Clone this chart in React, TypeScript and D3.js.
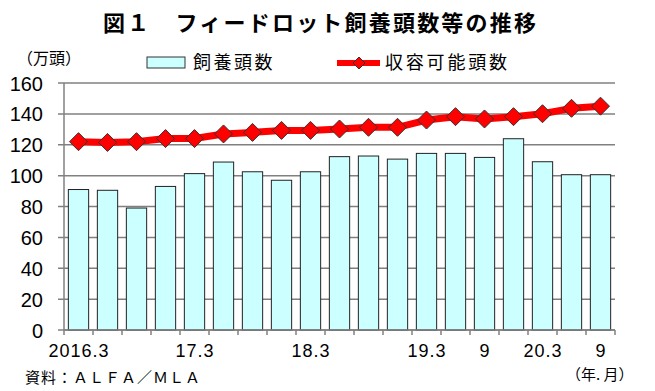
import React from 'react';
import * as d3 from 'd3';

// quarterly, 2016.3 .. 2020.9
const periods = [
  '2016.3', '2016.6', '2016.9', '2016.12',
  '2017.3', '2017.6', '2017.9', '2017.12',
  '2018.3', '2018.6', '2018.9', '2018.12',
  '2019.3', '2019.6', '2019.9', '2019.12',
  '2020.3', '2020.6', '2020.9',
];
const tickLabels: Record<string, string> = {
  '2016.3': '2016.3',
  '2017.3': '17.3',
  '2018.3': '18.3',
  '2019.3': '19.3',
  '2019.9': '9',
  '2020.3': '20.3',
  '2020.9': '9',
};
const headcount = [91, 90.5, 79, 93, 101.3, 108.8, 102.5, 97, 102.5, 112.3, 112.7, 110.7, 114.4, 114.4, 111.8, 123.9, 109, 100.6, 100.6];
const capacity = [122, 121.5, 122, 124, 124, 127, 128, 129.3, 129.3, 130.2, 131.3, 131.3, 136, 138.2, 136.7, 138.2, 140.1, 143.6, 145];
const yTicks = [0, 20, 40, 60, 80, 100, 120, 140, 160];

const W = 655;
const H = 391;
const left = 64;
const right = 615;
const top = 83;
const bottom = 330;

const jp = '"Noto Sans CJK JP", sans-serif';
const num = '"Liberation Sans", Arial, sans-serif';

const App: React.FC = () => {
  const x = d3.scaleBand<string>().domain(periods).range([left, right]).paddingInner(0.3).paddingOuter(0.15);
  const xStep = d3.scaleBand<string>().domain(periods).range([left, right]);
  const y = d3.scaleLinear().domain([0, 160]).range([bottom, top]);
  const cx = (i: number) => xStep(periods[i])! + xStep.bandwidth() / 2;

  const line = d3.line<number>()
    .x((_, i) => cx(i))
    .y((d) => y(d));

  const diamond = (px: number, py: number, r: number) =>
    `M${px},${py - r}L${px + r},${py}L${px},${py + r}L${px - r},${py}Z`;

  return (
    <svg width={W} height={H} style={{ position: 'absolute', left: 0, top: 0 }}>
      <rect width={W} height={H} fill="#fff" />
      <text x={103} y={31} fontFamily={jp} fontWeight="bold" fontSize={22} letterSpacing={2.2} fill="#000">
        図１　フィードロット飼養頭数等の推移
      </text>
      <text x={17} y={64} fontFamily={jp} fontSize={16} fill="#000">（万頭）</text>

      {/* legend */}
      <rect x={147} y={57} width={38} height={11} fill="#ccffff" stroke="#333" strokeWidth={1} />
      <text x={193} y={69} fontFamily={jp} fontSize={18} letterSpacing={2.5} fill="#000">飼養頭数</text>
      <line x1={337} x2={380} y1={63} y2={63} stroke="#ff0000" strokeWidth={6} />
      <path d={diamond(359, 63, 6)} fill="#ff0000" stroke="#333" strokeWidth={1} />
      <text x={385} y={69} fontFamily={jp} fontSize={18} letterSpacing={2.8} fill="#000">収容可能頭数</text>

      {/* grid + y axis */}
      {yTicks.map((t) => (
        <g key={t}>
          <line x1={left - 6} x2={right} y1={y(t)} y2={y(t)} stroke="#808080" strokeWidth={1.5} />
          <text x={43} y={y(t) + 7.5} textAnchor="end" fontFamily={num} fontSize={20} fill="#000">{t}</text>
        </g>
      ))}
      <line x1={left} x2={left} y1={top} y2={bottom} stroke="#808080" strokeWidth={1.5} />

      {/* bars */}
      {headcount.map((v, i) => (
        <rect key={i} x={x(periods[i])} y={y(v)} width={x.bandwidth()} height={bottom - y(v)}
          fill="#ccffff" stroke="#222" strokeWidth={1} />
      ))}

      {/* x axis */}
      <line x1={left} x2={right} y1={bottom} y2={bottom} stroke="#808080" strokeWidth={1.5} />
      {d3.range(periods.length + 1).map((i) => {
        const xx = left + i * xStep.step();
        return <line key={i} x1={xx} x2={xx} y1={bottom} y2={bottom + 5} stroke="#808080" strokeWidth={1.5} />;
      })}
      {periods.map((p, i) => tickLabels[p] ? (
        <text key={p} x={cx(i) + 0.5} y={357} textAnchor="middle" fontFamily={num} fontSize={18} letterSpacing={1} fill="#000">
          {tickLabels[p]}
        </text>
      ) : null)}

      {/* capacity line */}
      <path d={line(capacity) ?? ''} fill="none" stroke="#ff0000" strokeWidth={7} strokeLinejoin="round" />
      {capacity.map((v, i) => (
        <path key={i} d={diamond(cx(i), y(v), 9)} fill="#ff0000" stroke="#333" strokeWidth={1} />
      ))}

      <text x={25} y={383} fontFamily={jp} fontSize={15} letterSpacing={1} fill="#000">資料：ＡＬＦＡ／ＭＬＡ</text>
      <text x={566} y={380} fontFamily={jp} fontSize={15} fill="#000">（年. 月）</text>
    </svg>
  );
};

export default App;
